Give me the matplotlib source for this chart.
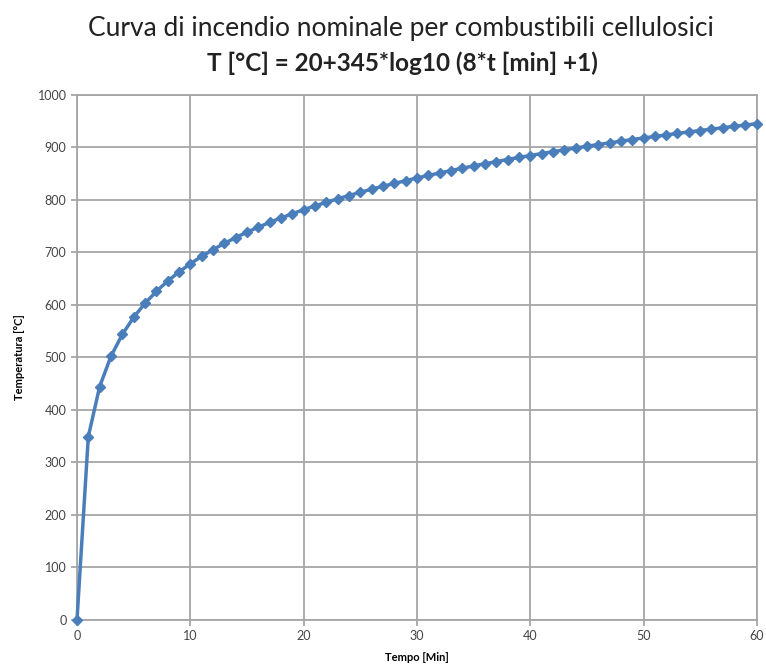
import numpy as np
import matplotlib.pyplot as plt

# tempo [min] e temperatura [°C]
tempo = list(range(0, 61))
temperatura = [0, 349.2, 444.5, 502.3, 543.9, 576.4, 603.1, 625.8, 645.5, 662.8,
               678.4, 692.5, 705.4, 717.3, 728.3, 738.6, 748.2, 757.2, 765.7, 773.7,
               781.4, 788.6, 795.6, 802.2, 808.5, 814.6, 820.5, 826.1, 831.5, 836.7,
               841.8, 846.7, 851.4, 856.0, 860.5, 864.8, 869.0, 873.1, 877.1, 881.0,
               884.7, 888.4, 892.0, 895.5, 899.0, 902.3, 905.6, 908.8, 912.0, 915.1,
               918.1, 921.0, 923.9, 926.8, 929.6, 932.3, 935.0, 937.7, 940.3, 942.8,
               945.3]
xticks = [0, 10, 20, 30, 40, 50, 60]
yticks = list(range(0, 1001, 100))

plt.rcParams['font.family'] = ['Lato', 'DejaVu Sans']

fig = plt.figure(figsize=(7.66, 6.68), dpi=100)
ax = fig.add_axes([0.1005, 0.0719, 0.8875, 0.7859])

ax.plot(tempo, temperatura, color='#4a7ebb', lw=2.5, marker='D', ms=5.5,
        markerfacecolor='#4a7ebb', markeredgecolor='#4a7ebb', clip_on=False, zorder=3)

ax.set_xlim(0, 60)
ax.set_ylim(0, 1000)
ax.set_xticks(xticks)
ax.set_yticks(yticks)
ax.grid(True, color='#a6a6a6', lw=1.3)
ax.set_axisbelow(True)
for s in ax.spines.values():
    s.set_color('#a6a6a6')
    s.set_linewidth(1.3)
ax.tick_params(colors='#a6a6a6', labelcolor='#444444', labelsize=9, length=4, width=1.3)

ax.set_xlabel('Tempo [Min]', fontsize=8, fontweight='bold', labelpad=7)
ax.set_ylabel('Temperatura [°C]', fontsize=8, fontweight='bold', labelpad=9)

fig.text(0.524, 0.957, 'Curva di incendio nominale per combustibili cellulosici',
         ha='center', va='center', fontsize=19, color='#222222')
fig.text(0.525, 0.906, 'T [°C] = 20+345*log10 (8*t [min] +1)',
         ha='center', va='center', fontsize=17.5, fontweight='bold', color='#222222')

fig.savefig('out.png', dpi=100)
